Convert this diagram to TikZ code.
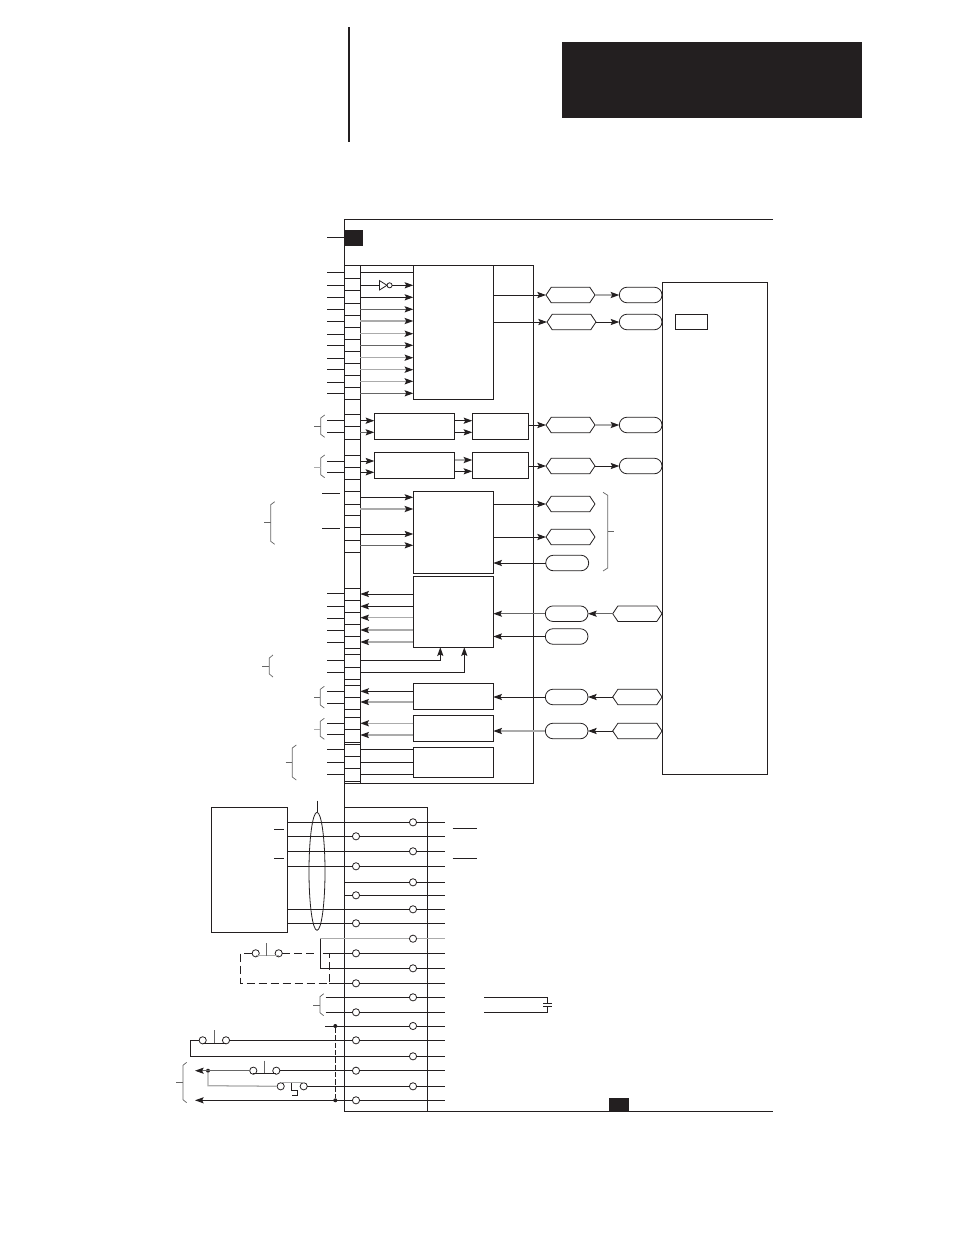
\documentclass[tikz,border=0pt]{standalone}
\usepackage{tikz}
\usetikzlibrary{arrows.meta,shapes.misc,shapes.symbols,calc}
\definecolor{ink}{HTML}{231F20}
\definecolor{lgray}{HTML}{ABABAB}
\definecolor{dgray}{HTML}{666666}
\tikzset{
  x=0.75pt,y=-0.75pt,
  every path/.style={line width=0.72pt},
  tip/.style={-{Stealth[color=ink,length=6.5pt,width=4.6pt,inset=1.2pt]}},
  lg/.style={draw=lgray,line width=0.95pt},
  dg/.style={draw=dgray},
  blockbox/.style={draw=ink,line width=0.72pt,rectangle,inner sep=0pt,outer sep=0pt,fill=white},
  solidbox/.style={fill=ink,draw=ink,line width=0.4pt,rectangle,inner sep=0pt,outer sep=0pt},
  hexbox/.style={draw=ink,line width=0.6pt,signal,signal to=west and east,signal pointer angle=112,inner sep=0pt,outer sep=0pt,fill=white},
  pill/.style={draw=ink,line width=0.6pt,rounded rectangle,inner sep=0pt,outer sep=0pt,fill=white},
  term/.style={circle,draw=ink,line width=0.6pt,fill=white,minimum size=5.4pt,inner sep=0pt,outer sep=0pt},
  dot/.style={circle,fill=ink,draw=none,minimum size=3pt,inner sep=0pt,outer sep=0pt},
  bracel/.style={draw=dgray,line width=0.55pt},
  dashline/.style={draw=ink,line width=0.72pt,dash pattern=on 6pt off 3pt},
}
\newcommand\rectnode[6][blockbox]{\node[#1,minimum width={(#5-#3)*0.75pt},minimum height={(#6-#4)*0.75pt}] (#2) at ({(#3+#5)/2},{(#4+#6)/2}) {};}
\newcommand\hexnode[4]{\node[hexbox,minimum width={(#3-#2)*0.75pt},minimum height=11.7pt] (#1) at ({(#2+#3)/2},#4) {};}
\newcommand\pillnode[4]{\node[pill,minimum width={(#3-#2)*0.75pt},minimum height=11.7pt] (#1) at ({(#2+#3)/2},#4) {};}
\newcommand\brL[4]{\draw[bracel] (#2,#3) -- (#1,{#3+3}) -- (#1,{#4-3}) -- (#2,#4);}
\newcommand\brTick[3]{\draw[bracel] (#1,#3) -- (#2,#3);}
\begin{document}
\begin{tikzpicture}[color=ink]
\useasboundingbox (0,0) rectangle (954,1235);
% header
\rectnode[solidbox]{hdr}{562}{42}{861}{117}
\draw[line width=1.5pt] (349,27) coordinate (ruleT) -- (349,142) coordinate (ruleB);
% outer frame
\coordinate (fTR) at (773,219.5);
\coordinate (fBR) at (773,1111.3);
\coordinate (fTL) at (344.6,219.5);
\coordinate (fBL) at (344.6,1111.3);
\draw (fTR) -- (fTL) -- (fBL) -- (fBR);
\rectnode[solidbox]{sqA}{344.6}{230}{362.5}{245}
\rectnode[solidbox]{sqB}{609}{1098}{628}{1111}
\coordinate (stA) at (327,237.5);
\draw (stA) -- (sqA.west);
% inner panel and strip
\rectnode{panel}{344.6}{265}{533.3}{783.3}
\rectnode{strip}{344.6}{265.7}{360.3}{783.3}
\foreach \y in {278,290,303,315,327,339,351,363,375,387,399,
  414,426,439,455,467,479,491,504,515.3,527.3,540.3,552.3,
  588.3,600.3,612.3,624.3,636.3,648.3,654.3,667.3,679.3,685.3,697.3,709.3,717.3,729.3,742.7,744.3,756.3,768.3,781.7}
  \draw (strip.west |- 0,\y) -- (strip.east |- 0,\y);
% external stubs
\coordinate (stubX) at (327,0);
\foreach \y in {272.3,285.3,297.3,309.3,321.3,334.3,345.3,358.3,369.3,382.3,393.3,
  420.3,432.3,461.3,472.3,593.3,606.3,618.3,630.3,642.3,660.3,672.3,691.3,703.3,723.3,734.3,749.3,762.3,774.3}
  \draw (stubX |- 0,\y) -- (strip.west |- 0,\y);
\draw (322,493.3) coordinate (s1a) -- (340,493.3) coordinate (s1b);
\draw (322,528.3) coordinate (s2a) -- (340,528.3) coordinate (s2b);
% block nodes
\rectnode{bA}{413.3}{265.7}{493.3}{399.3}
\rectnode{bC1}{374.3}{413.3}{454.7}{439.3}
\rectnode{bD1}{472.3}{413.3}{528.7}{439.3}
\rectnode{bC2}{374.3}{452.3}{454.7}{478.3}
\rectnode{bD2}{472.3}{452.3}{528.7}{478.3}
\rectnode{bE}{413.3}{491.3}{493.3}{573.3}
\rectnode{bF}{413.3}{576.3}{493.3}{647.3}
\rectnode{bG}{413.3}{683.3}{493.3}{709.3}
\rectnode{bH}{413.3}{715.3}{493.3}{741.3}
\rectnode{bI}{413.3}{747.3}{493.3}{777.3}
\rectnode{bR}{662.3}{282.3}{767.7}{774.3}
\rectnode{bS}{675.3}{314.3}{707.7}{329.3}
% hexagons and pills
\hexnode{h1}{546}{595}{295}
\hexnode{h2}{547}{596}{322}
\hexnode{h3}{546}{595}{425}
\hexnode{h4}{546}{595}{466}
\hexnode{h5}{546}{595}{504}
\hexnode{h6}{546}{595}{537}
\pillnode{p1}{619.3}{662}{295}
\pillnode{p2}{619.3}{662}{322}
\pillnode{p3}{619.3}{662}{425}
\pillnode{p4}{619.3}{662}{466}
\pillnode{p7}{545.7}{588.7}{563}
\pillnode{p8}{545.3}{588}{613.7}
\pillnode{p9}{545.3}{588}{636.5}
\pillnode{p10}{545.3}{588}{697}
\pillnode{p11}{545.3}{588}{731}
\hexnode{h8}{612.7}{662}{613.7}
\hexnode{h10}{612.7}{662}{697}
\hexnode{h11}{612.7}{662}{731}
% block A inputs
\draw (strip.east |- 0,272.3) -- (bA.west |- 0,272.3);
\coordinate (invIn) at (379.3,285.3);
\draw (strip.east |- 0,285.3) -- (invIn);
\draw[line width=0.6pt,fill=white] (379.5,280.6) -- (387,285.3) -- (379.5,290) -- cycle;
\node[term,minimum size=3.8pt] (inv) at (389.6,285.3) {};
\draw[tip] (inv.east) -- (bA.west |- inv);
\draw[tip] (strip.east |- 0,297.3) -- (bA.west |- 0,297.3);
\foreach \y in {309.3,345.3,393.3}
  \draw[tip,dg] (strip.east |- 0,\y) -- (bA.west |- 0,\y);
\foreach \y in {321,333.7,357.7,369.7,381.3}
  \draw[tip,lg] (strip.east |- 0,\y) -- (bA.west |- 0,\y);
% block A outputs
\draw[tip] (bA.east |- h1.west) -- (h1.west);
\draw[tip] (bA.east |- h2.west) -- (h2.west);
\draw[tip,lg] (h1.east) -- (p1.west);
\draw[tip] (h2.east) -- (p2.west);
% C/D rows
\draw[tip] (strip.east |- 0,420.7) -- (bC1.west |- 0,420.7);
\draw[tip,dg] (strip.east |- 0,432.3) -- (bC1.west |- 0,432.3);
\draw[tip] (bC1.east |- 0,420.7) -- (bD1.west |- 0,420.7);
\draw[tip] (bC1.east |- 0,432.3) -- (bD1.west |- 0,432.3);
\draw[tip] (strip.east |- 0,461) -- (bC2.west |- 0,461);
\draw[tip] (strip.east |- 0,472.3) -- (bC2.west |- 0,472.3);
\draw[tip,lg] (bC2.east |- 0,460) -- (bD2.west |- 0,460);
\draw[tip] (bC2.east |- 0,471.3) -- (bD2.west |- 0,471.3);
\draw[tip] (bD1.east |- h3.west) -- (h3.west);
\draw[tip] (bD2.east |- h4.west) -- (h4.west);
\draw[tip,lg] (h3.east) -- (p3.west);
\draw[tip] (h4.east) -- (p4.west);
% block E
\draw[tip] (strip.east |- 0,497.3) -- (bE.west |- 0,497.3);
\draw[tip,lg] (strip.east |- 0,509) -- (bE.west |- 0,509);
\draw[tip] (strip.east |- 0,534) -- (bE.west |- 0,534);
\draw[tip,dg] (strip.east |- 0,545.3) -- (bE.west |- 0,545.3);
\draw[tip] (bE.east |- h5.west) -- (h5.west);
\draw[tip] (bE.east |- h6.west) -- (h6.west);
\draw[tip] (p7.west) -- (bE.east |- p7.west);
% block F
\draw[tip] (bF.west |- 0,594) -- (strip.east |- 0,594);
\draw[tip] (bF.west |- 0,606.3) -- (strip.east |- 0,606.3);
\foreach \y in {617.7,630,642}
  \draw[tip,lg] (bF.west |- 0,\y) -- (strip.east |- 0,\y);
\draw[tip] (strip.east |- 0,660.3) -| (440.3,647.3) coordinate (fa);
\draw[tip] (strip.east |- 0,672.3) -| (464.3,647.3) coordinate (fb);
\draw[tip,dg] (p8.west) -- (bF.east |- p8.west);
\draw[tip] (p9.west) -- (bF.east |- p9.west);
\draw[tip,dg] (h8.west) -- (p8.east);
% blocks G H I
\draw[tip] (bG.west |- 0,691.3) -- (strip.east |- 0,691.3);
\draw[tip,lg] (bG.west |- 0,702) -- (strip.east |- 0,702);
\draw[tip,lg] (bH.west |- 0,723.3) -- (strip.east |- 0,723.3);
\draw[tip,lg] (bH.west |- 0,735) -- (strip.east |- 0,735);
\foreach \y in {749.3,762.3,774.3}
  \draw (strip.east |- 0,\y) -- (bI.west |- 0,\y);
\draw[tip] (p10.west) -- (bG.east |- p10.west);
\draw[tip,lg] (p11.west) -- (bH.east |- p11.west);
\draw[tip] (h10.west) -- (p10.east);
\draw[tip] (h11.west) -- (p11.east);
% braces upper
\brL{320.7}{324.7}{415}{437.3}\brTick{314}{320.7}{426.3}
\brL{320.7}{324.7}{455}{477.7}\draw[lg,line width=.6pt] (314,467.3) coordinate (bt) -- (320.7,467.3) coordinate (bu);
\brL{270.7}{274.7}{501.7}{544.3}\brTick{264}{270.7}{522.7}
\brL{269.3}{273}{655}{677}\brTick{262.3}{269.3}{666.3}
\brL{320.3}{324.3}{686.3}{708}\brTick{314}{320.3}{697.3}
\brL{320.3}{324.3}{718.3}{739.3}\draw[lg,line width=.6pt] (314,729) coordinate (bv) -- (320.3,729) coordinate (bw);
\brL{292.3}{296.3}{745}{780}\brTick{285.7}{292.3}{762.3}
% right brace
\brL{607.7}{603}{492.3}{571}\brTick{607.7}{614}{531.3}
% lower section
\rectnode[blockbox,fill=none]{lowbox}{344.6}{807.3}{427.7}{1111.3}
\rectnode{lbox}{211.3}{807.3}{287.3}{932.3}
\draw (274,829.3) coordinate (lt1) -- (284,829.3) coordinate (lt2);
\draw (274,858.3) coordinate (lt3) -- (284,858.3) coordinate (lt4);
\draw (452.7,828.3) coordinate (rt1) -- (477.3,828.3) coordinate (rt2);
\draw (452.7,858.3) coordinate (rt3) -- (477.3,858.3) coordinate (rt4);
\coordinate (rend) at (445.3,0);
% terminals
\foreach \n/\x/\y in {1/413/822.3,2/356/836.3,3/413/851.3,4/356/866.3,5/413/882.3,6/356/895.3,7/413/909.3,8/356/923.3,
  9/413/938.7,10/356/953.3,11/413/968.3,12/356/983.3,13/413/997.3,14/356/1012.3,15/413/1026,16/356/1040.3,
  17/413/1056.3,18/356/1070.7,19/413/1086.3,20/356/1100.3}
  \node[term] (t\n) at (\x,\y) {};
\foreach \n in {1,2,3,4,5,6,7,8,10,11,12,13,14,15,16,17,18,19,20} \draw (t\n) -- (rend |- t\n);
\draw[lg] (t9) -- (rend |- t9);
\foreach \n in {1,2,3,4,7,8} \draw (lbox.east |- t\n) -- (t\n);
\draw (fTL |- t5) -- (t5);
\draw (fTL |- t6) -- (t6);
% ellipse
\draw[line width=0.6pt] (317,871.3) ellipse [x radius=8,y radius=59];
\draw (317,800.7) coordinate (eT) -- (317,812.3) coordinate (eB);
% rows 9..12 and dashed loop
\coordinate (j9) at (320.3,938.7);
\coordinate (j11) at (320.3,968.3);
\draw[lg] (j9) -- (t9);
\draw (j9) -- (j11) -- (t11);
\coordinate (d0) at (322.7,953.3);
\coordinate (d1) at (329.3,953.3);
\coordinate (d2) at (329.3,983.3);
\draw (d0) -- (t10);
\draw (d2) -- (t12);
\node[term] (swA1) at (255.7,953.3) {};
\node[term] (swA2) at (278.7,953.3) {};
\coordinate (dL1) at (240.3,953.3);
\coordinate (dL2) at (240.3,983.3);
\draw[dashline] (swA1) -- (dL1) -- (dL2) -- (d2) -- (d1);
\draw[dashline] (swA2) -- (318,953.3) coordinate (dE);
\draw[lg] (255.7,955.7) -- (278.7,955.7);
\draw[dg,line width=.6pt] (266.7,943.3) -- (266.7,955.7);
% brace row 13,14
\brL{320}{323.7}{993.7}{1015.7}\brTick{313.3}{320}{1005.3}
\coordinate (c13) at (325.7,997.3);
\coordinate (c14) at (325.7,1012.3);
\draw (c13) -- (t13);
\draw (c14) -- (t14);
% capacitor
\coordinate (k1) at (484,997.3);
\coordinate (k2) at (484,1012.3);
\coordinate (k3) at (547.7,997.3);
\coordinate (k4) at (547.7,1012.3);
\draw (k1) -- (k3) -- (547.7,1003);
\draw (k2) -- (k4) -- (547.7,1006.7);
\draw (543.3,1003) -- (552,1003);
\draw (543.3,1006.7) -- (552,1006.7);
% row 15 and bus
\node[dot] (n15) at (335.3,1026) {};
\node[dot] (n20) at (335.3,1100.3) {};
\coordinate (c15) at (325,1026);
\draw (c15) -- (t15);
\draw[dashline,dash pattern=on 4pt off 1.5pt] (n15) -- (n20);
% rows 16,17 switch
\node[term] (swB1) at (202.7,1040.3) {};
\node[term] (swB2) at (226,1040.3) {};
\coordinate (c1) at (190.3,1040.3);
\coordinate (c2) at (190.3,1056.3);
\draw (swB2) -- (t16);
\draw (swB1) -- (c1) -- (c2) -- (t17);
\draw (202.7,1043.3) -- (226,1043.3);
\draw[dg,line width=.6pt] (214.3,1030) -- (214.3,1043.3);
% row 18
\node[term] (swC1) at (253.3,1070.7) {};
\node[term] (swC2) at (276.3,1070.7) {};
\node[dot] (n18) at (208,1070.7) {};
\coordinate (a18) at (195,1070.7);
\draw[tip,dg] (swC1) -- (a18);
\draw (swC2) -- (t18);
\draw (253.3,1073.3) -- (276.3,1073.3);
\draw[dg,line width=.6pt] (264.7,1060.7) -- (264.7,1073.3);
% row 19
\node[term] (swD1) at (280.7,1086.3) {};
\node[term] (swD2) at (303.7,1086.3) {};
\coordinate (c3) at (208,1085.7);
\draw[lg] (n18) -- (c3) -- (swD1);
\draw (swD2) -- (t19);
\draw[lg] (280.7,1082.5) -- (303.7,1082.5);
\draw[line width=.6pt] (291.7,1082.5) -- (291.7,1090) -- (297.3,1090) -- (297.3,1095) -- (291.7,1095);
% row 20
\coordinate (a20) at (195,1100.3);
\draw[tip] (t20) -- (a20);
% brace bottom
\brL{183}{186.7}{1062.3}{1102.7}\brTick{176}{183}{1082.3}
\end{tikzpicture}
\end{document}
